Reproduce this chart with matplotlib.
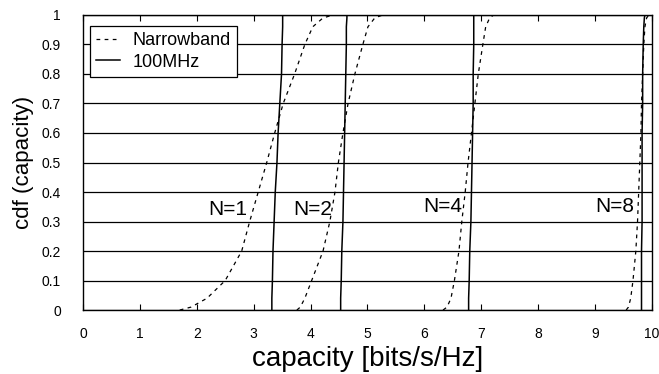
import numpy as np
import matplotlib.pyplot as plt

plt.rcParams['font.family'] = ['Liberation Sans', 'DejaVu Sans']

cdf_levels = [0.0, 0.01, 0.04, 0.1, 0.2, 0.3, 0.4, 0.5, 0.6, 0.7, 0.8, 0.9, 0.96, 0.99, 1.0]

# narrowband capacity at each cdf level (dashed)
nb_n1 = [1.70, 1.90, 2.18, 2.50, 2.79, 2.93, 3.08, 3.23, 3.37, 3.52, 3.72, 3.90, 4.04, 4.22, 4.40]
nb_n2 = [3.76, 3.82, 3.90, 4.02, 4.22, 4.34, 4.43, 4.49, 4.57, 4.66, 4.78, 4.92, 5.01, 5.13, 5.27]
nb_n4 = [6.33, 6.40, 6.47, 6.53, 6.61, 6.66, 6.72, 6.77, 6.83, 6.89, 6.95, 7.03, 7.08, 7.15, 7.22]
nb_n8 = [9.55, 9.59, 9.63, 9.67, 9.72, 9.75, 9.77, 9.79, 9.81, 9.82, 9.84, 9.86, 9.88, 9.91, 9.95]

# 100MHz capacity (solid)
wb_n1 = [3.32, 3.32, 3.32, 3.33, 3.34, 3.36, 3.38, 3.41, 3.43, 3.46, 3.49, 3.50, 3.51, 3.51, 3.51]
wb_n2 = [4.53, 4.53, 4.53, 4.54, 4.55, 4.57, 4.58, 4.59, 4.60, 4.61, 4.62, 4.63, 4.63, 4.64, 4.64]
wb_n4 = [6.78, 6.78, 6.78, 6.79, 6.80, 6.82, 6.83, 6.84, 6.85, 6.86, 6.86, 6.87, 6.87, 6.87, 6.87]
wb_n8 = [9.82, 9.82, 9.82, 9.82, 9.82, 9.83, 9.83, 9.83, 9.83, 9.84, 9.84, 9.85, 9.86, 9.87, 9.88]

labels = ['N=1', 'N=2', 'N=4', 'N=8']
label_x = [2.88, 3.69, 6.66, 9.70]
label_y = [0.34, 0.34, 0.35, 0.35]
label_ha = ['right', 'left', 'right', 'right']

yticklabels = ['0', '0.1', '0.2', '0.3', '0.4', '0.5', '0.6', '0.7', '0.8', '0.9', '1']

fig = plt.figure(figsize=(6.59, 3.74), dpi=100)
ax = fig.add_axes([0.126, 0.171, 0.863, 0.789])

for i, nb in enumerate([nb_n1, nb_n2, nb_n4, nb_n8]):
    ax.plot(nb, cdf_levels, color='black', ls=(0, (3, 3.5)), lw=0.9,
            label='Narrowband' if i == 0 else None)
for i, wb in enumerate([wb_n1, wb_n2, wb_n4, wb_n8]):
    ax.plot(wb, cdf_levels, color='black', ls='-', lw=1.1,
            label='100MHz' if i == 0 else None)

for t, x, y, ha in zip(labels, label_x, label_y, label_ha):
    ax.text(x, y, t, fontsize=15, ha=ha, va='center')

ax.set_xlim(0, 10)
ax.set_ylim(0, 1)
ax.set_xticks(range(0, 11))
ax.set_yticks(np.arange(0, 1.01, 0.1))
ax.set_yticklabels(yticklabels)
ax.grid(axis='y', color='black', lw=0.9)
ax.tick_params(axis='x', direction='in', length=4, top=True, labelsize=10, pad=12)
ax.tick_params(axis='y', length=0, labelsize=10, pad=16)
for s in ax.spines.values():
    s.set_linewidth(1.0)

ax.set_xlabel('capacity [bits/s/Hz]', fontsize=20, labelpad=4)
ax.set_ylabel('cdf (capacity)', fontsize=16, labelpad=5)

leg = ax.legend(loc='upper left', bbox_to_anchor=(0.012, 0.963), fontsize=13,
                frameon=True, fancybox=False, edgecolor='black', framealpha=1,
                handlelength=1.3, borderpad=0.35, labelspacing=0.25,
                handletextpad=0.7, borderaxespad=0)
leg.get_frame().set_linewidth(0.9)

fig.savefig('out.png', dpi=100)
